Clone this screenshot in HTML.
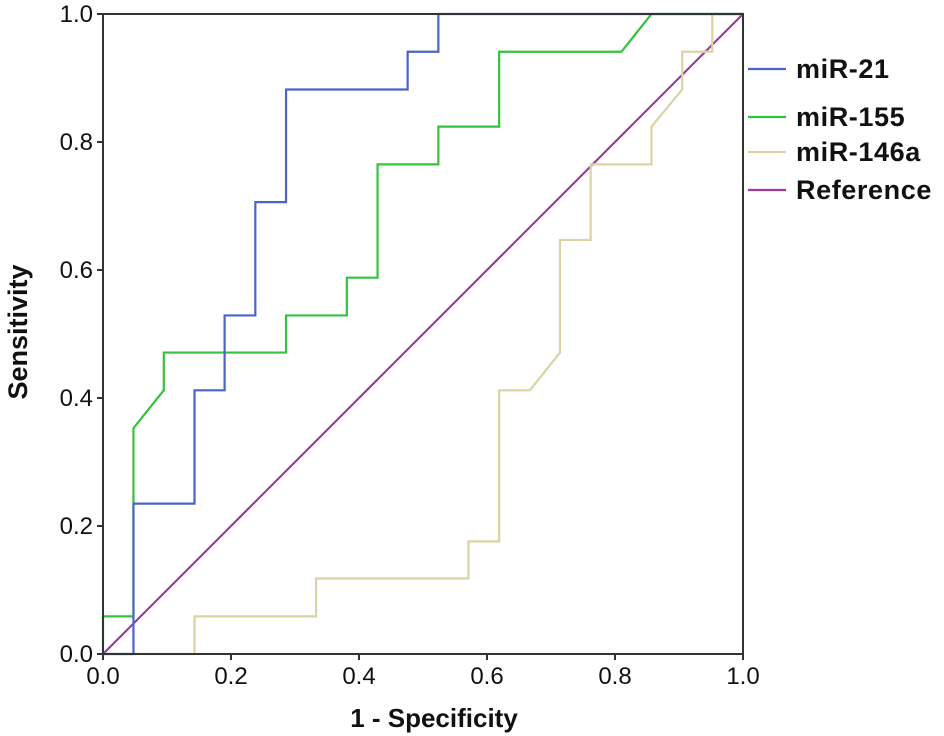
<!DOCTYPE html>
<html><head><meta charset="utf-8"><style>
body{margin:0;background:#fff;}
svg{display:block;font-family:"Liberation Sans",Arial,sans-serif;}
</style></head><body>
<svg id="chart" width="944" height="736"></svg>
<script>
const tickValues=[0,0.2,0.4,0.6,0.8,1.0];
const tickLabels=["0.0","0.2","0.4","0.6","0.8","1.0"];
const seriesNames=["miR-21","miR-155","miR-146a","Reference"];
const mir21X=[0,0.0476,0.0476,0.143,0.143,0.190,0.190,0.238,0.238,0.286,0.286,0.476,0.476,0.524,0.524,1];
const mir21Y=[0,0,0.235,0.235,0.412,0.412,0.529,0.529,0.706,0.706,0.882,0.882,0.941,0.941,1,1];
const mir155X=[0,0,0.0476,0.0476,0.095,0.095,0.286,0.286,0.381,0.381,0.429,0.429,0.524,0.524,0.619,0.619,0.810,0.857,1];
const mir155Y=[0,0.0588,0.0588,0.353,0.412,0.471,0.471,0.529,0.529,0.588,0.588,0.765,0.765,0.824,0.824,0.941,0.941,1,1];
const mir146X=[0,0.143,0.143,0.333,0.333,0.571,0.571,0.619,0.619,0.667,0.714,0.714,0.762,0.762,0.857,0.857,0.905,0.905,0.952,0.952,1];
const mir146Y=[0,0,0.0588,0.0588,0.118,0.118,0.176,0.176,0.412,0.412,0.471,0.647,0.647,0.765,0.765,0.824,0.882,0.941,0.941,1,1];
const refX=[0,1];
const refY=[0,1];

const svg=document.getElementById('chart');
const NS="http://www.w3.org/2000/svg";
const X0=103,X1=743,Y0=654,Y1=14;
const sx=v=>X0+v*(X1-X0);
const sy=v=>Y0-v*(Y0-Y1);
function mk(t,a){const e=document.createElementNS(NS,t);for(const k in a)e.setAttribute(k,a[k]);svg.appendChild(e);return e;}

tickValues.forEach((v,i)=>{
  const tx=mk('line',{x1:sx(v),x2:sx(v),y1:Y0,y2:Y0+6,stroke:'#333',"stroke-width":2});
  
  
  const lx=mk('text',{x:sx(v),y:Y0+30,"font-size":24,"text-anchor":"middle",fill:'#111'});
  lx.textContent=tickLabels[i];
  
  
  const ty=mk('line',{x1:X0-6,x2:X0,y1:sy(v),y2:sy(v),stroke:'#333',"stroke-width":2});
  
  
  const ly=mk('text',{x:X0-10,y:sy(v)+8,"font-size":24,"text-anchor":"end",fill:'#111'});
  ly.textContent=tickLabels[i];
  
  
});

const series=[[refX,refY,'#9b3c9e'],[mir146X,mir146Y,'#d9d4a2'],[mir155X,mir155Y,'#34c23f'],[mir21X,mir21Y,'#4a64c9']];
const snames=['reference-line','mir-146a-curve','mir-155-curve','mir-21-curve'];
series.forEach((s,i)=>{
  const pts=s[0].map((x,j)=>sx(x)+','+sy(s[1][j])).join(' ');
  const p=mk('polyline',{points:pts,fill:'none',stroke:s[2],"stroke-width":2.2});
  
  
});

const frame=mk('rect',{x:X0,y:Y1,width:X1-X0,height:Y0-Y1,fill:'none',stroke:'#333',"stroke-width":2});



const legColors=['#4a64c9','#34c23f','#d9d4a2','#9b3c9e'];
const legY=[69,117,152,190];
seriesNames.forEach((n,i)=>{
  const l=mk('line',{x1:748,x2:786,y1:legY[i],y2:legY[i],stroke:legColors[i],"stroke-width":2.2});
  
  
  const t=mk('text',{x:796,y:legY[i]+9,"font-size":27,"font-weight":"bold","letter-spacing":0.6,fill:'#111'});
  t.textContent=n;
  
  
});

const xt=mk('text',{x:434,y:727,"font-size":26,"font-weight":"bold","text-anchor":"middle",fill:'#111'});
xt.textContent='1 - Specificity';


const yt=mk('text',{x:0,y:0,"font-size":27,"font-weight":"bold","text-anchor":"middle",fill:'#111',transform:'translate(27,332) rotate(-90)'});
yt.textContent='Sensitivity';


</script>
</body></html>
